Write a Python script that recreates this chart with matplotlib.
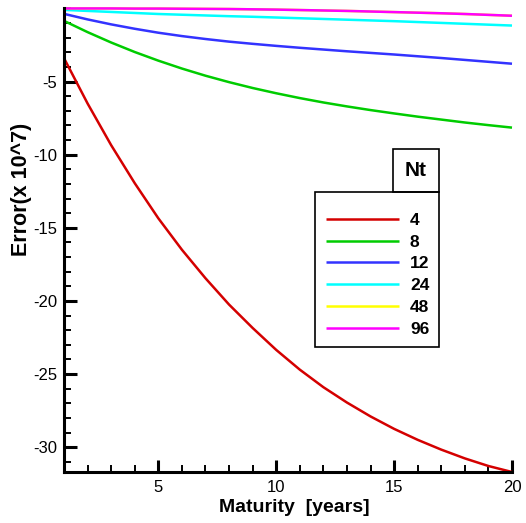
import matplotlib
matplotlib.use("Agg")
import matplotlib.pyplot as plt
from matplotlib.patches import Rectangle
from matplotlib.ticker import MultipleLocator

plt.rcParams["font.family"] = ["Liberation Sans", "DejaVu Sans"]
plt.rcParams["axes.unicode_minus"] = False

# error curves (x 10^7) against maturity, one per number of time steps Nt
maturity = list(range(1, 21))
nt_labels = ["4", "8", "12", "24", "48", "96"]
err_nt4 = [-3.4, -6.5, -9.35, -11.95, -14.35, -16.5, -18.45, -20.25, -21.85, -23.35,
           -24.7, -25.9, -26.95, -27.9, -28.75, -29.5, -30.17, -30.77, -31.29, -31.7]
err_nt8 = [-0.85, -1.62, -2.33, -2.98, -3.57, -4.11, -4.6, -5.04, -5.44, -5.8,
           -6.13, -6.43, -6.7, -6.95, -7.18, -7.4, -7.6, -7.8, -7.98, -8.15]
err_nt12 = [-0.37, -0.75, -1.09, -1.39, -1.66, -1.89, -2.09, -2.27, -2.42, -2.56,
            -2.69, -2.81, -2.93, -3.04, -3.15, -3.27, -3.39, -3.52, -3.65, -3.78]
err_nt24 = [-0.1, -0.17, -0.24, -0.31, -0.38, -0.43, -0.48, -0.53, -0.57, -0.62,
            -0.67, -0.72, -0.77, -0.82, -0.87, -0.93, -0.99, -1.05, -1.11, -1.17]
err_nt48 = [0.0, 0.0, 0.0, -0.01, -0.01, -0.02, -0.03, -0.04, -0.06, -0.08,
            -0.11, -0.14, -0.17, -0.21, -0.25, -0.29, -0.33, -0.38, -0.44, -0.5]
err_nt96 = [0.0, 0.0, 0.0, -0.01, -0.01, -0.02, -0.03, -0.04, -0.06, -0.08,
            -0.11, -0.14, -0.17, -0.21, -0.25, -0.29, -0.33, -0.38, -0.44, -0.5]

series = [err_nt4, err_nt8, err_nt12, err_nt24, err_nt48, err_nt96]
colors = ["#d40000", "#00cc00", "#3333ff", "#00ffff", "#ffff00", "#ff00ff"]

W, H = 526, 523
fig = plt.figure(figsize=(W / 100, H / 100), dpi=100)
ax = fig.add_axes([64 / W, 1 - 472 / H, 448 / W, 464 / H])

handles = []
for vals, col, lab in zip(series, colors, nt_labels):
    ln, = ax.plot(maturity, vals, color=col, lw=1.8, label=lab, clip_on=False,
                  solid_capstyle="butt", solid_joinstyle="round")
    handles.append(ln)

ax.set_xlim(1, 20)
ax.set_ylim(-31.7, 0.03)
ax.xaxis.set_major_locator(MultipleLocator(5))
ax.xaxis.set_minor_locator(MultipleLocator(1))
ax.yaxis.set_minor_locator(MultipleLocator(1))
ax.set_yticks([-30, -25, -20, -15, -10, -5])

for side in ("top", "right"):
    ax.spines[side].set_visible(False)
for side in ("left", "bottom"):
    ax.spines[side].set_linewidth(2.2)
ax.tick_params(which="both", direction="in", labelsize=12, width=1.4)
ax.tick_params(which="major", length=9, width=2.2)
ax.tick_params(which="minor", length=5)
ax.tick_params(axis="x", pad=6)
ax.tick_params(axis="y", pad=5)

ax.set_xlabel("Maturity  [years]", fontsize=14, fontweight="bold")
ax.xaxis.set_label_coords(0.513, -0.058)
ax.set_ylabel("Error(x 10^7)", fontsize=15.5, fontweight="bold")
ax.yaxis.set_label_coords(-0.071, 0.61)

# legend box with the separate "Nt" title box on its upper right
fig.patches.append(Rectangle((315 / W, 1 - 347 / H), 124 / W, 155 / H,
                             transform=fig.transFigure, fill=False,
                             ec="black", lw=1.2))
fig.patches.append(Rectangle((393 / W, 1 - 191.7 / H), 46 / W, 42.4 / H,
                             transform=fig.transFigure, fill=False,
                             ec="black", lw=1.2))
fig.text(416 / W, 1 - 170.5 / H, "Nt", ha="center", va="center",
         fontsize=15, fontweight="bold")

leg = ax.legend(handles=handles, loc="upper left",
                bbox_to_anchor=(317 / W, 1 - 204 / H),
                bbox_transform=fig.transFigure, frameon=False,
                handlelength=4.2, handletextpad=0.65, labelspacing=0.38,
                borderpad=0, prop={"weight": "bold", "size": 12.5})

fig.savefig("out.png", dpi=100)
